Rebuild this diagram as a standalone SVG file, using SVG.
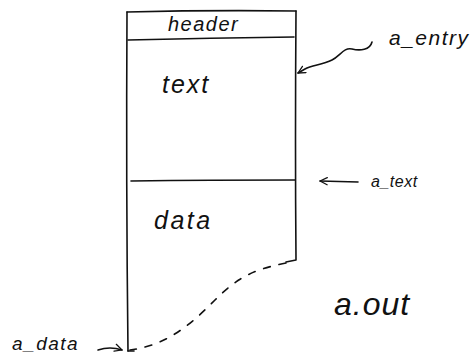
<svg xmlns="http://www.w3.org/2000/svg" width="475" height="358" viewBox="0 0 475 358">
  <style>
    .ink { fill: none; stroke: #111; stroke-width: 1.6; stroke-linecap: round; stroke-linejoin: round; }
    .dash { stroke-dasharray: 7 9; }
    .hand { font-family: "Liberation Sans", "DejaVu Sans", sans-serif; font-style: italic; fill: #111; }
  </style>
  <defs>
    <marker id="open" viewBox="0 0 10 10" refX="9" refY="5" markerWidth="9" markerHeight="9" orient="auto" markerUnits="userSpaceOnUse">
      <path d="M1 1 L9 5 L1 9" fill="none" stroke="#111" stroke-width="1.4" stroke-linecap="round" stroke-linejoin="round"/>
    </marker>
  </defs>

  <!-- the a.out file image -->
  <g id="file">
    <path class="ink" d="M127 12 Q210 10 296 11"/>
    <path class="ink" d="M127 12 Q126 180 128 351"/>
    <path class="ink" d="M296 11 Q295 140 296 260 L286 262"/>
    <path class="ink dash" d="M286 263 C250 270 235 280 215 300 C195 320 170 345 130 350"/>
    <path class="ink" d="M128 351 L134 351"/>
  </g>

  <g id="header">
    <path class="ink" d="M128 40 Q210 38 294 37"/>
    <text class="hand" x="168" y="31" font-size="20" letter-spacing="1.5">header</text>
  </g>

  <g id="text-seg">
    <path class="ink" d="M131 181 Q210 180 295 180"/>
    <text class="hand" x="162" y="93" font-size="25" letter-spacing="2">text</text>
  </g>

  <g id="data-seg">
    <text class="hand" x="154" y="229" font-size="25" letter-spacing="2.5">data</text>
  </g>

  <g id="labels">
    <text class="hand" x="389" y="45" font-size="21" letter-spacing="1.5">a_entry</text>
    <text class="hand" x="371" y="187" font-size="16" letter-spacing="0.5">a_text</text>
    <text class="hand" x="12" y="350" font-size="19" letter-spacing="1.5">a_data</text>
    <text class="hand" x="334" y="315" font-size="32" letter-spacing="1">a.out</text>
  </g>

  <!-- pointers into the file -->
  <g id="connectors">
    <path class="ink" marker-end="url(#open)" d="M372 42 C370 50 360 51 352 49 C344 47 340 56 332 60 C322 65 312 65 305 69 L298 73"/>
    <path class="ink" marker-end="url(#open)" d="M358 182 L320 181"/>
    <path class="ink" marker-end="url(#open)" d="M98 350 Q110 346 122 350"/>
  </g>
</svg>
